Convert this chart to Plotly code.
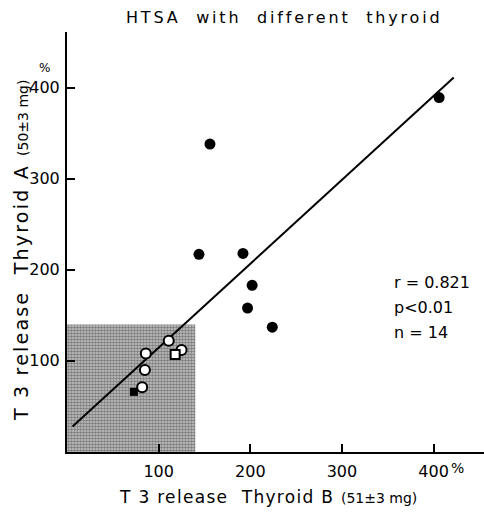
import plotly.graph_objects as go

# Data
filled_x = [406, 156, 144, 192, 202, 197, 224]
filled_y = [389, 338, 217, 218, 183, 158, 137]
open_x = [111, 86, 125, 85, 82]
open_y = [122, 108, 112, 90, 71]
open_sq_x = [118]
open_sq_y = [107]
filled_sq_x = [73]
filled_sq_y = [66]
line_x = [6, 422]
line_y = [28, 411]
shade_limit = 140
tick_vals = [100, 200, 300, 400]
tick_text = ["100", "200", "300", "400"]
stats = ["r = 0.821", "p<0.01", "n = 14"]

FONT = "DejaVu Sans"
W, H = 484, 514
L, R, T, B = 67, 0, 32, 62

def px(x):
    return (x - L) / (W - L - R)

def py(y):
    return (H - B - y) / (H - T - B)

fig = go.Figure()

# shaded region
fig.add_trace(go.Scatter(
    x=[0, shade_limit, shade_limit, 0, 0], y=[0, 0, shade_limit, shade_limit, 0],
    mode="lines", line=dict(width=0), fill="toself",
    fillcolor="#a0a0a0",
    fillpattern=dict(shape=".", fgcolor="#303030", bgcolor="#c8c8c8", size=3, solidity=0.6),
    hoverinfo="skip", showlegend=False))

fig.add_trace(go.Scatter(x=line_x, y=line_y, mode="lines",
                         line=dict(color="black", width=2), showlegend=False))

fig.add_trace(go.Scatter(x=filled_x, y=filled_y, mode="markers",
                         marker=dict(symbol="circle", size=11, color="black"),
                         showlegend=False))
fig.add_trace(go.Scatter(x=open_x, y=open_y, mode="markers",
                         marker=dict(symbol="circle", size=10, color="white",
                                     line=dict(color="black", width=2)),
                         showlegend=False))
fig.add_trace(go.Scatter(x=open_sq_x, y=open_sq_y, mode="markers",
                         marker=dict(symbol="square", size=9, color="white",
                                     line=dict(color="black", width=2)),
                         showlegend=False))
fig.add_trace(go.Scatter(x=filled_sq_x, y=filled_sq_y, mode="markers",
                         marker=dict(symbol="square", size=8, color="black"),
                         showlegend=False))

axis_common = dict(showgrid=False, zeroline=False, showline=True, linecolor="black",
                   linewidth=2, ticks="inside", ticklen=8, tickwidth=1.5, tickcolor="black",
                   tickvals=tick_vals, ticktext=tick_text,
                   tickfont=dict(family=FONT, size=16, color="black"))

fig.update_xaxes(range=[0, 455], ticklabelstandoff=4, **axis_common)
fig.update_yaxes(range=[0, 461], ticklabelstandoff=2, **axis_common)

def note(text, x, y, size=16, angle=0, xanchor="center"):
    return dict(text=text, x=px(x), y=py(y), xref="paper", yref="paper",
                xanchor=xanchor, yanchor="middle", textangle=angle,
                showarrow=False, font=dict(family=FONT, size=size, color="black"))

ann = []
ann.append(note("<span style='letter-spacing:2.8px'>HTSA  with  different  thyroid</span>", 284, 18))
ann.append(note("<span style='letter-spacing:2.2px'>T 3 release  Thyroid A </span><span style='font-size:14px'>(50±3 mg)</span>",
                21, 251, size=19, angle=-90))
ann.append(note("<span style='letter-spacing:1.3px'>T 3 release  Thyroid B </span><span style='font-size:14px'>(51±3 mg)</span>",
                268, 497, size=17))
ann.append(note("%", 44, 68, size=12))
ann.append(note("%", 457, 468, size=14))
for i, s in enumerate(stats):
    ann.append(note(s, 392, 282 + 25 * i, xanchor="left"))

fig.update_layout(width=W, height=H, margin=dict(l=L, r=R, t=T, b=B),
                  plot_bgcolor="white", paper_bgcolor="white",
                  annotations=ann, showlegend=False)

fig.write_html("out.html")
